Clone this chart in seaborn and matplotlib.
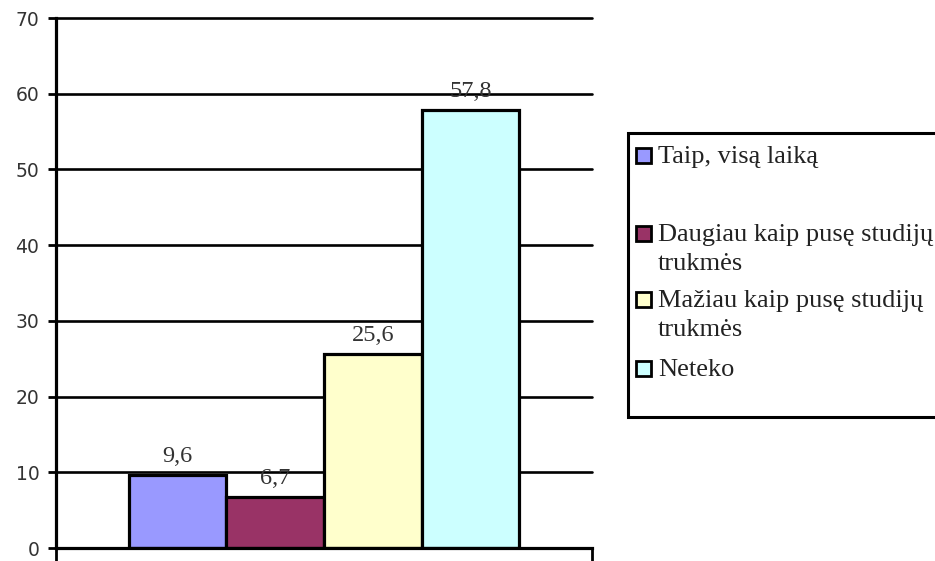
import matplotlib
matplotlib.use("Agg")
import matplotlib.pyplot as plt
from matplotlib.patches import Rectangle
import pandas as pd
import seaborn as sns

# Survey answers and their shares (%)
answers = [
    "Taip, visą laiką",
    "Daugiau kaip pusę studijų\ntrukmės",
    "Mažiau kaip pusę studijų\ntrukmės",
    "Neteko",
]
shares = [9.6, 6.7, 25.6, 57.8]
colors = ["#9999FF", "#993366", "#FFFFCC", "#CCFFFF"]
y_ticks = [0, 10, 20, 30, 40, 50, 60, 70]

sns.set_theme(style="white")
plt.rcParams["font.family"] = ["DejaVu Sans"]

df = pd.DataFrame({"grupe": [""] * len(answers), "atsakymas": answers, "procentai": shares})

fig = plt.figure(figsize=(9.35, 5.61), dpi=100)
ax = fig.add_axes([56 / 935, 13 / 561, (592 - 56) / 935, (548 - 18) / 561])

sns.barplot(
    data=df, x="grupe", y="procentai", hue="atsakymas", hue_order=answers,
    palette=colors, width=0.728, edgecolor="black", linewidth=2.3,
    saturation=1, legend=False, ax=ax, zorder=3,
)

ax.set_xlim(-0.5, 0.5)
ax.set_ylim(0, 70)
ax.set_xlabel("")
ax.set_ylabel("")

# horizontal grid
ax.set_yticks(y_ticks)
ax.yaxis.grid(True, color="black", linewidth=1.9)
ax.set_axisbelow(True)
for gl in ax.get_ygridlines():
    gl.set_clip_on(False)
    gl.set_zorder(1)

ax.set_xticks([-0.5, 0.5], labels=["", ""])
ax.tick_params(axis="x", direction="out", length=9, width=2, color="black", bottom=True)
ax.tick_params(axis="y", direction="out", length=6, width=2, color="black", left=True,
               labelsize=13.5, labelcolor="#333333", pad=6)

for side in ["top", "right"]:
    ax.spines[side].set_visible(False)
for side in ["left", "bottom"]:
    ax.spines[side].set_color("black")
    ax.spines[side].set_linewidth(2.3)
    ax.spines[side].set_zorder(4)

# value labels above bars
for cont, v in zip(ax.containers, shares):
    ax.bar_label(cont, labels=[f"{v:.1f}".replace(".", ",")], padding=6,
                 fontsize=17.5, family="Liberation Serif", color="#333333", zorder=5)

# legend box
fig.add_artist(Rectangle((628 / 935, 1 - 417 / 561), 0.4, (417 - 133) / 561,
                         transform=fig.transFigure, facecolor="white",
                         edgecolor="black", linewidth=2.2))
baselines = [163, 241, 307, 376]
line_gap = 29
for label, col, base in zip(answers, colors, baselines):
    fig.add_artist(Rectangle((636 / 935, 1 - base / 561), 15 / 935, 15 / 561,
                             transform=fig.transFigure, facecolor=col,
                             edgecolor="black", linewidth=2))
    for i, line in enumerate(label.split("\n")):
        fig.text(658 / 935, 1 - (base + i * line_gap) / 561, line,
                 fontsize=19, family="Liberation Serif", color="#222222",
                 va="baseline", ha="left")

fig.savefig("out.png", dpi=100)
